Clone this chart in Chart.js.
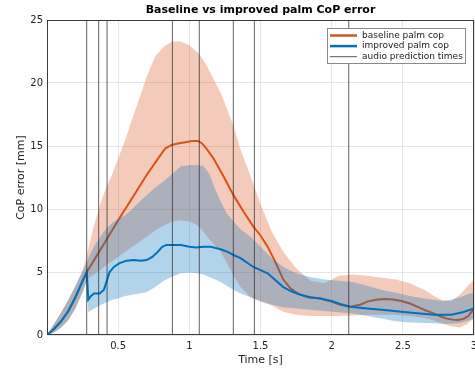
<!DOCTYPE html>
<html>
<head>
<meta charset="utf-8">
<script src="https://cdn.jsdelivr.net/npm/chart.js@4.4.1/dist/chart.umd.min.js"></script>
<style>
  html, body { margin: 0; padding: 0; background: #fff; }
</style>
</head>
<body>
<canvas id="myChart" width="475" height="368"></canvas>
<script>
// mean curves
const baseT = [0, 0.05, 0.1, 0.15, 0.2, 0.25, 0.28, 0.35, 0.42, 0.5, 0.6, 0.7, 0.78, 0.83, 0.88, 0.92, 0.97, 1.02, 1.06, 1.09, 1.12, 1.17, 1.24, 1.31, 1.38, 1.45, 1.5, 1.55, 1.6, 1.66, 1.71, 1.76, 1.83, 1.92, 2.0, 2.06, 2.13, 2.2, 2.25, 2.31, 2.37, 2.43, 2.49, 2.55, 2.6, 2.66, 2.72, 2.77, 2.81, 2.85, 2.89, 2.93, 2.96, 3.0];
const baseMean = [0, 0.5, 1.1, 1.9, 3.0, 4.3, 5.0, 6.3, 7.6, 9.1, 10.9, 12.7, 14.0, 14.8, 15.1, 15.2, 15.3, 15.4, 15.4, 15.2, 14.8, 14.0, 12.6, 11.1, 9.8, 8.6, 7.9, 7.0, 5.9, 4.4, 3.7, 3.3, 3.0, 2.9, 2.65, 2.4, 2.25, 2.4, 2.65, 2.8, 2.86, 2.82, 2.7, 2.5, 2.25, 1.95, 1.7, 1.45, 1.3, 1.22, 1.19, 1.3, 1.5, 2.1];

const impT = [0, 0.05, 0.1, 0.15, 0.2, 0.25, 0.28, 0.29, 0.31, 0.33, 0.37, 0.40, 0.42, 0.44, 0.47, 0.51, 0.56, 0.61, 0.66, 0.70, 0.74, 0.77, 0.81, 0.84, 0.9, 0.94, 1.0, 1.05, 1.1, 1.15, 1.22, 1.27, 1.31, 1.36, 1.45, 1.55, 1.6, 1.66, 1.72, 1.78, 1.85, 1.92, 2.0, 2.06, 2.13, 2.25, 2.37, 2.49, 2.6, 2.72, 2.84, 2.92, 3.0];
const impMean = [0, 0.5, 1.1, 1.9, 3.0, 4.3, 5.0, 2.8, 3.1, 3.3, 3.3, 3.6, 4.3, 5.0, 5.4, 5.7, 5.9, 5.95, 5.9, 5.95, 6.2, 6.5, 7.0, 7.15, 7.15, 7.15, 7.0, 6.95, 7.0, 7.0, 6.8, 6.6, 6.35, 6.1, 5.4, 4.9, 4.4, 3.8, 3.45, 3.2, 3.0, 2.9, 2.7, 2.46, 2.25, 2.1, 1.98, 1.85, 1.72, 1.6, 1.6, 1.8, 2.1];

// spread bands
const bandT = [0, 0.05, 0.1, 0.15, 0.2, 0.25, 0.28, 0.29, 0.33, 0.38, 0.42, 0.46, 0.5, 0.55, 0.6, 0.65, 0.7, 0.76, 0.82, 0.88, 0.94, 1.0, 1.06, 1.1, 1.14, 1.18, 1.22, 1.26, 1.31, 1.36, 1.43, 1.5, 1.58, 1.66, 1.75, 1.85, 1.95, 2.05, 2.15, 2.25, 2.35, 2.45, 2.55, 2.65, 2.72, 2.78, 2.84, 2.9, 2.95, 3.0];
const baseHi = [0, 0.9, 1.8, 2.8, 3.9, 5.1, 6.3, 6.8, 8.7, 10.6, 11.8, 12.8, 14.0, 15.5, 17.2, 18.8, 20.5, 22.1, 22.9, 23.3, 23.3, 23.0, 22.4, 21.8, 21.0, 20.1, 19.2, 18.1, 16.6, 14.7, 12.6, 10.4, 8.2, 6.6, 5.3, 4.3, 4.1, 4.7, 4.8, 4.7, 4.55, 4.4, 4.1, 3.6, 3.1, 2.75, 2.7, 3.2, 3.8, 4.4];
const baseLo = [0, 0.2, 0.6, 1.2, 2.1, 3.4, 4.3, 4.5, 4.8, 5.2, 5.6, 5.9, 6.2, 6.6, 7.0, 7.4, 7.8, 8.3, 8.7, 9.0, 9.1, 9.0, 8.7, 8.2, 7.6, 7.1, 6.6, 5.8, 4.7, 3.8, 3.0, 2.65, 2.35, 1.85, 1.6, 1.5, 1.5, 1.5, 1.55, 1.6, 1.6, 1.6, 1.5, 1.35, 1.15, 0.9, 0.7, 0.6, 0.85, 1.3];
const impHi = [0, 0.9, 1.8, 2.8, 3.9, 5.1, 5.8, 6.1, 7.0, 7.9, 8.5, 8.9, 9.2, 9.5, 10.0, 10.6, 11.1, 11.7, 12.2, 12.8, 13.4, 13.5, 13.5, 13.4, 12.8, 11.6, 10.6, 9.7, 9.0, 8.4, 7.8, 7.0, 6.1, 5.4, 4.9, 4.6, 4.4, 4.3, 4.2, 3.9, 3.6, 3.35, 3.1, 2.9, 2.8, 2.7, 2.8, 3.0, 3.2, 3.4];
const impLo = [0, 0.2, 0.6, 1.2, 2.1, 3.4, 4.3, 1.8, 2.1, 2.4, 2.6, 2.8, 2.9, 3.1, 3.2, 3.3, 3.4, 3.8, 4.3, 4.65, 4.9, 4.95, 4.9, 4.8, 4.6, 4.4, 4.2, 3.9, 3.6, 3.3, 3.0, 2.7, 2.4, 2.2, 2.1, 2.0, 1.9, 1.8, 1.7, 1.5, 1.3, 1.1, 1.0, 0.95, 0.93, 0.9, 0.9, 0.95, 1.1, 1.3];

const audioTimes = [0.279, 0.363, 0.422, 0.881, 1.07, 1.309, 1.457, 2.12];
const legendLabels = ["baseline palm cop", "improved palm cop", "audio prediction times"];

const orange = "rgb(217, 83, 25)";
const blue = "rgb(0, 114, 189)";

function pts(xs, ys) {
  return xs.map((x, i) => ({ x: x, y: ys[i] }));
}

Chart.defaults.font.family = "DejaVu Sans";
Chart.defaults.font.size = 10;
Chart.defaults.color = "#262626";

// box, title and legend drawn on top
const decor = {
  id: "decor",
  afterDraw(chart) {
    const { ctx, chartArea: a } = chart;
    ctx.save();
    ctx.strokeStyle = "#3a3a3a";
    ctx.lineWidth = 1;
    ctx.strokeRect(Math.round(a.left) + 0.5, Math.round(a.top) + 0.5,
      Math.round(a.right - a.left) - 1, Math.round(a.bottom - a.top) - 1);

    ctx.fillStyle = "#000";
    ctx.font = "bold 11px 'DejaVu Sans'";
    ctx.textAlign = "center";
    ctx.textBaseline = "middle";
    ctx.fillText("Baseline vs improved palm CoP error", (a.left + a.right) / 2, 10);

    const bx = a.right - 147, by = a.top + 8, bw = 138, bh = 35;
    ctx.fillStyle = "#fff";
    ctx.fillRect(bx, by, bw, bh);
    ctx.strokeStyle = "#8a8a8a";
    ctx.strokeRect(bx + 0.5, by + 0.5, bw, bh);
    const cols = [orange, blue, "#555"];
    const widths = [2.5, 2.5, 1];
    ctx.font = "9px 'DejaVu Sans'";
    ctx.textAlign = "left";
    legendLabels.forEach((lab, i) => {
      const y = by + 7.5 + i * 10.6;
      ctx.strokeStyle = cols[i];
      ctx.lineWidth = widths[i];
      ctx.beginPath();
      ctx.moveTo(bx + 3, y);
      ctx.lineTo(bx + 30, y);
      ctx.stroke();
      ctx.fillStyle = "#1a1a1a";
      ctx.fillText(lab, bx + 35, y);
    });
    ctx.restore();
  }
};

const audioSets = audioTimes.map((t) => ({
  data: [{ x: t, y: 0 }, { x: t, y: 25 }],
  borderColor: "rgba(45, 45, 45, 0.75)",
  borderWidth: 1,
  fill: false
}));

const ctx = document.getElementById("myChart");

new Chart(ctx, {
  type: "line",
  data: {
    datasets: [
      ...audioSets,
      { data: pts(impT, impMean), borderColor: blue, borderWidth: 2, fill: false },
      { data: pts(bandT, impHi), borderColor: "rgba(0,0,0,0)", borderWidth: 0,
        backgroundColor: "rgba(0, 114, 189, 0.3)", fill: "+1" },
      { data: pts(bandT, impLo), borderColor: "rgba(0,0,0,0)", borderWidth: 0, fill: false },
      { data: pts(baseT, baseMean), borderColor: orange, borderWidth: 2, fill: false },
      { data: pts(bandT, baseHi), borderColor: "rgba(0,0,0,0)", borderWidth: 0,
        backgroundColor: "rgba(217, 83, 25, 0.3)", fill: "+1" },
      { data: pts(bandT, baseLo), borderColor: "rgba(0,0,0,0)", borderWidth: 0, fill: false }
    ]
  },
  options: {
    responsive: false,
    animation: false,
    devicePixelRatio: 1,
    layout: { padding: { top: 20, right: 1, left: 0, bottom: 0 } },
    elements: { point: { radius: 0 }, line: { tension: 0 } },
    plugins: {
      legend: { display: false },
      title: { display: false },
      tooltip: { enabled: false }
    },
    scales: {
      x: {
        type: "linear",
        min: 0,
        max: 3,
        afterFit(scale) {
          scale.height = 33;
          scale.paddingLeft = 0;
          scale.paddingRight = 0;
        },
        ticks: {
          stepSize: 0.5,
          padding: 5,
          maxRotation: 0,
          callback: (v) => (v === 0 ? "" : v)
        },
        grid: { color: "#e6e6e6", drawTicks: false },
        border: { display: false },
        title: { display: true, text: "Time [s]", font: { size: 11 }, padding: { top: 0, bottom: 1 } }
      },
      y: {
        min: 0,
        max: 25,
        afterFit(scale) {
          scale.width = 47;
        },
        ticks: { stepSize: 5, padding: 4 },
        grid: { color: "#e6e6e6", drawTicks: false },
        border: { display: false },
        title: { display: true, text: "CoP error [mm]", font: { size: 11 }, padding: { top: 15, bottom: 0 } }
      }
    }
  },
  plugins: [decor]
});
</script>
</body>
</html>
